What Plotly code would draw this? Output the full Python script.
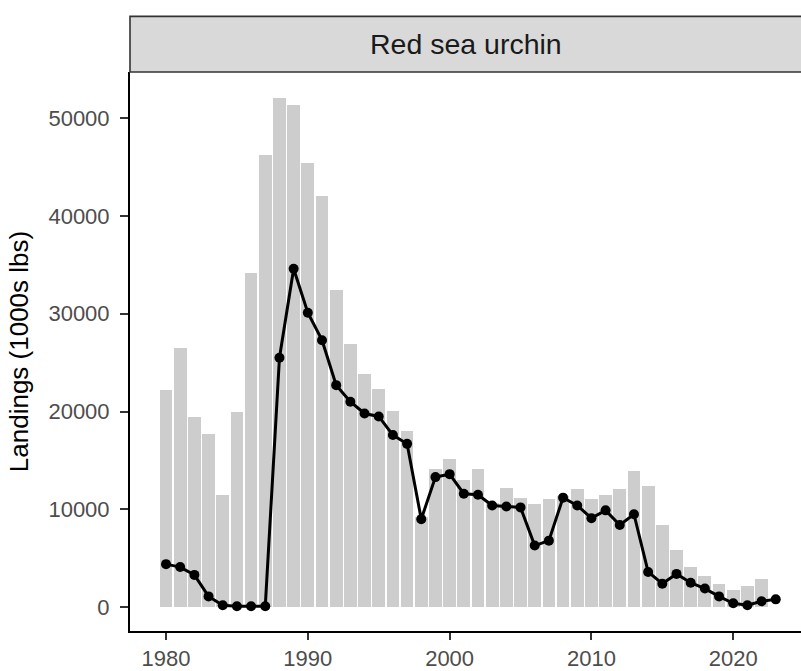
import plotly.graph_objects as go

# Annual landings, red sea urchin (1000s lbs)
bar_years = list(range(1980, 2023))
bar_values = [
    22200, 26500, 19400, 17700, 11500, 20000, 34200, 46200, 52100, 51300,
    45400, 42000, 32400, 26900, 23800, 22300, 20100, 18000, 9200, 14100,
    15100, 13000, 14100, 10700, 12200, 11200, 10600, 11100, 11400, 12100,
    11100, 11500, 12100, 13900, 12400, 8400, 5800, 4100, 3200, 2400,
    1800, 2200, 2900,
]

line_years = list(range(1980, 2024))
line_values = [
    4400, 4100, 3300, 1100, 200, 100, 100, 100, 25500, 34600,
    30100, 27300, 22700, 21000, 19800, 19500, 17600, 16700, 9000, 13300,
    13600, 11600, 11500, 10400, 10300, 10200, 6300, 6800, 11200, 10400,
    9100, 9900, 8400, 9500, 3600, 2400, 3400, 2500, 1900, 1100,
    400, 200, 600, 800,
]

x_ticks = [1980, 1990, 2000, 2010, 2020]
y_ticks = [0, 10000, 20000, 30000, 40000, 50000]
panel_title = "Red sea urchin"
y_title = "Landings (1000s lbs)"

FONT = "Liberation Sans, Arial, Helvetica, sans-serif"

fig = go.Figure()
fig.add_trace(go.Bar(
    x=bar_years, y=bar_values, width=0.9,
    marker=dict(color="#cdcdcd", line=dict(width=0)),
    showlegend=False,
))
fig.add_trace(go.Scatter(
    x=line_years, y=line_values, mode="lines+markers",
    line=dict(color="black", width=3),
    marker=dict(color="black", size=10),
    showlegend=False,
))

plot_top, plot_bottom = 72, 36
plot_h = 671 - plot_top - plot_bottom
strip_h = 56

# facet strip above the panel
fig.add_shape(
    type="rect", xref="paper", yref="paper",
    x0=0, x1=1.02, y0=1, y1=1 + strip_h / plot_h,
    fillcolor="#d9d9d9", line=dict(color="#333333", width=1.6),
    layer="above",
)
fig.add_annotation(
    text=panel_title, xref="paper", yref="paper",
    x=0.5, y=1 + (strip_h / 2) / plot_h, xanchor="center", yanchor="middle",
    showarrow=False, font=dict(family=FONT, size=28.5, color="#1a1a1a"),
)

fig.update_layout(
    width=801, height=671,
    margin=dict(l=130, r=0, t=plot_top, b=plot_bottom),
    paper_bgcolor="white", plot_bgcolor="white",
    font=dict(family=FONT),
    bargap=0,
)
fig.update_xaxes(
    range=[1977.46, 2024.78], tickvals=x_ticks,
    showgrid=False, zeroline=False,
    showline=True, linecolor="black", linewidth=2,
    ticks="outside", ticklen=7, tickwidth=2, tickcolor="#333333",
    tickfont=dict(family=FONT, size=22, color="#4d4d4d"),
)
fig.update_yaxes(
    range=[-2437, 54720], tickvals=y_ticks, tickformat="d",
    showgrid=False, zeroline=False,
    showline=True, linecolor="black", linewidth=2,
    ticks="outside", ticklen=8, tickwidth=2, tickcolor="#333333",
    ticklabelstandoff=6,
    tickfont=dict(family=FONT, size=22, color="#4d4d4d"),
    title=dict(text=y_title, font=dict(family=FONT, size=26, color="black"), standoff=12),
)

fig.write_html("out.html")
